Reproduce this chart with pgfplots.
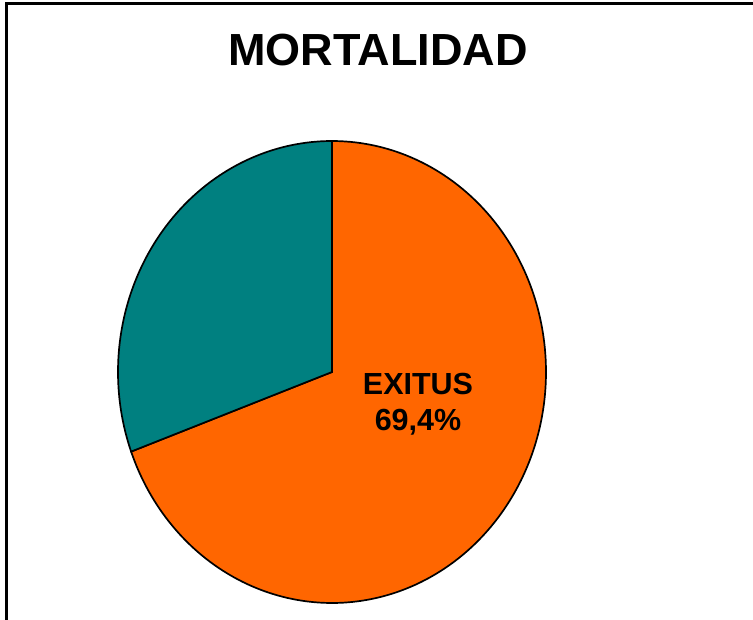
\documentclass[border=0pt]{standalone}
\usepackage{pgfplots}
\pgfplotsset{compat=1.18}
\usepackage{fontspec}
\setmainfont{Liberation Sans}
\definecolor{exitus}{HTML}{FF6600}
\definecolor{vivos}{HTML}{008080}
\begin{document}
\begin{tikzpicture}
\pgfmathsetmacro{\pct}{69.4}
\pgfmathsetmacro{\aend}{90-3.6*\pct}
\begin{axis}[
  at={(0,0)}, anchor=south west,
  scale only axis, width=753bp, height=620bp,
  xmin=0, xmax=753, ymin=0, ymax=620,
  hide axis, clip=true,
]
% orange slice (EXITUS 69.4%)
\addplot [fill=exitus, draw=black, line width=1.7bp, domain=\aend:90, samples=200, variable=\t]
  ({332+214*cos(\t)}, {248+231*sin(\t)}) -- (axis cs:332,248) -- cycle;
% teal slice (30.6%)
\addplot [fill=vivos, draw=black, line width=1.7bp, domain=90:\aend+360, samples=120, variable=\t]
  ({332+214*cos(\t)}, {248+231*sin(\t)}) -- (axis cs:332,248) -- cycle;
\node[font=\fontsize{45bp}{54bp}\selectfont\bfseries] at (axis cs:378,570) {MORTALIDAD};
\node[font=\fontsize{30.5bp}{36bp}\selectfont\bfseries, align=center] at (axis cs:418,216) {EXITUS\\69,4\%};
\draw[line width=3bp] (axis cs:6,0) -- (axis cs:6,616) -- (axis cs:753,616);
\end{axis}
\pgfresetboundingbox
\path[use as bounding box] (0,0) rectangle (753bp,620bp);
\end{tikzpicture}
\end{document}
